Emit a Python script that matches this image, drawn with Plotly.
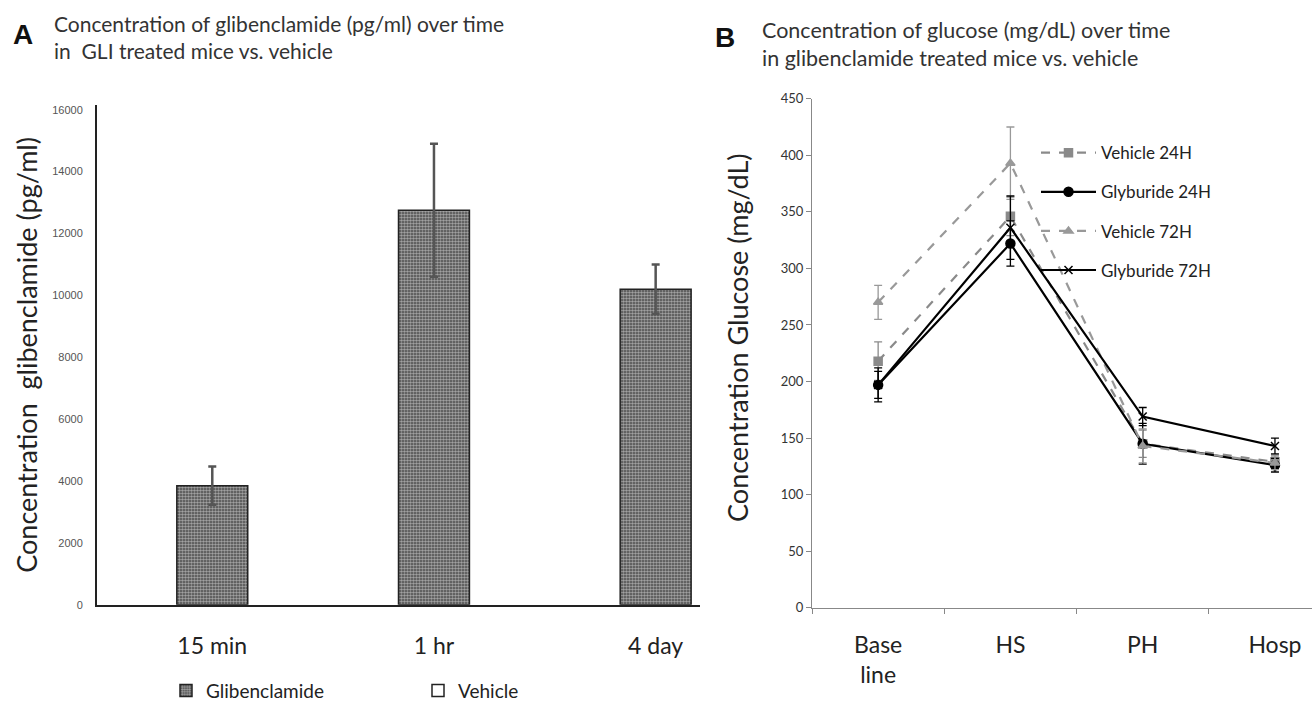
import plotly.graph_objects as go

# ---------------- Data ----------------
cats_a = ["15 min", "1 hr", "4 day"]
glib_vals = [3850, 12750, 10200]
glib_err = [620, 2150, 800]
vehicle_vals = [None, None, None]

cats_b = ["Base<br>line", "HS", "PH", "Hosp"]
veh24 = [218, 346, 145, 129]
veh24_err = [17, 17, 12, 6]
gly24 = [197, 322, 145, 126]
gly24_err = [15, 20, 18, 6]
veh72 = [270, 393, 143, 128]
veh72_err = [15, 32, 15, 6]
gly72 = [197, 336, 169, 143]
gly72_err = [12, 28, 8, 7]

W, H = 1312, 710
FONT = "Lato"

def px(x):
    return x / W

def py(y):
    return 1 - y / H

fig = go.Figure()

# ---------------- Panel A ----------------
fig.add_trace(go.Bar(
    x=cats_a, y=glib_vals, name="Glibenclamide", width=0.32,
    marker=dict(color="#444444", line=dict(color="#222", width=1.5),
                pattern=dict(shape=".", fgcolor="#ffffff", size=3, solidity=0.6)),
    error_y=dict(type="data", array=glib_err, color="#555", thickness=2.5, width=4),
    xaxis="x", yaxis="y", legend="legend2",
))
fig.add_trace(go.Bar(
    x=cats_a, y=vehicle_vals, name="Vehicle", width=0.32,
    marker=dict(color="white", line=dict(color="#222", width=1.5)),
    xaxis="x", yaxis="y", legend="legend2",
))

# ---------------- Panel B ----------------
series = [
    ("Vehicle 24H", veh24, veh24_err, "#8a8a8a", "dash", "square", 8),
    ("Glyburide 24H", gly24, gly24_err, "#000000", "solid", "circle", 9),
    ("Vehicle 72H", veh72, veh72_err, "#999999", "dash", "triangle-up", 8),
    ("Glyburide 72H", gly72, gly72_err, "#000000", "solid", "x-thin", 8),
]
for i, (name, vals, err, col, dash, sym, size) in enumerate(series):
    fig.add_trace(go.Scatter(
        x=cats_b, y=vals, name=name, mode="lines+markers",
        line=dict(color=col, width=2.2, dash=dash),
        marker=dict(symbol=sym, size=size, color=col, line=dict(color=col, width=1.5)),
        error_y=dict(type="data", array=err, color=col, thickness=1.3, width=4),
        xaxis="x2", yaxis="y2", legend="legend", legendgroup=f"g{i}",
    ))

fig.update_layout(
    width=W, height=H, margin=dict(l=0, r=0, t=0, b=0),
    paper_bgcolor="white", plot_bgcolor="white",
    font=dict(family=FONT, color="#222"),
    barmode="overlay",
    showlegend=True,
    xaxis=dict(domain=[px(97), px(700)], range=[-0.52, 2.2], type="category",
               showline=True, linecolor="#222", linewidth=2, ticks="",
               tickfont=dict(size=23, color="#222", family=FONT), ticklabelstandoff=20,
               showgrid=False, zeroline=False, anchor="y", fixedrange=True),
    yaxis=dict(domain=[py(615), py(100)], range=[0, 16150], tickvals=list(range(0, 16001, 2000)),
               tickformat="d",
               showline=True, linecolor="#222", linewidth=2, ticks="",
               tickfont=dict(size=11, color="#555", family="Liberation Sans"),
               showgrid=False, zeroline=False, anchor="x", ticklabelstandoff=10,
               title=dict(text="Concentration  glibenclamide (pg/ml)", font=dict(size=27, family=FONT, color="#222"), standoff=7)),
    xaxis2=dict(domain=[px(812), px(1312)], range=[-0.5, 3.28], type="category",
                showline=True, linecolor="#888", linewidth=1.3, ticks="outside", ticklen=5,
                tickcolor="#888", tickson="boundaries",
                tickfont=dict(size=23, color="#222", family=FONT), ticklabelstandoff=17,
                showgrid=False, zeroline=False, anchor="y2", fixedrange=True),
    yaxis2=dict(domain=[py(618), py(93.5)], range=[0, 450], dtick=50,
                showline=True, linecolor="#888", linewidth=1.3, ticks="outside", ticklen=5,
                tickcolor="#888",
                tickfont=dict(size=13, color="#333", family=FONT),
                showgrid=False, zeroline=False, anchor="x2"),
    legend=dict(x=px(1036), y=py(131), xanchor="left", yanchor="top",
                font=dict(size=17, family=FONT, color="#222"), tracegroupgap=14,
                bgcolor="rgba(0,0,0,0)", itemwidth=55),
    legend2=dict(x=px(166), y=py(684), xanchor="left", yanchor="top", orientation="h",
                 font=dict(size=19, family=FONT, color="#222"), entrywidth=207,
                 bgcolor="rgba(0,0,0,0)", itemwidth=30),
)

annots = [
    dict(x=px(11), y=py(27), text="<b>A</b>", font=dict(size=28, family="Liberation Sans", color="#111"),
         xanchor="left", yanchor="middle"),
    dict(x=px(52), y=py(30), text="Concentration of glibenclamide (pg/ml) over time<br>in  GLI treated mice vs. vehicle",
         font=dict(size=21, family=FONT, color="#333"), xanchor="left", yanchor="middle", align="left"),
    dict(x=px(713), y=py(30), text="<b>B</b>", font=dict(size=28, family="Liberation Sans", color="#111"),
         xanchor="left", yanchor="middle"),
    dict(x=px(760), y=py(37), text="Concentration of glucose (mg/dL) over time<br>in glibenclamide treated mice vs. vehicle",
         font=dict(size=21.5, family=FONT, color="#333"), xanchor="left", yanchor="middle", align="left"),
    dict(x=px(738), y=py(340), text="Concentration Glucose (mg/dL)", textangle=-90,
         font=dict(size=27, family=FONT, color="#222"), xanchor="center", yanchor="middle"),
]
for a in annots:
    a.update(xref="paper", yref="paper", showarrow=False)
    fig.add_annotation(**a)

fig.write_html("out.html")
